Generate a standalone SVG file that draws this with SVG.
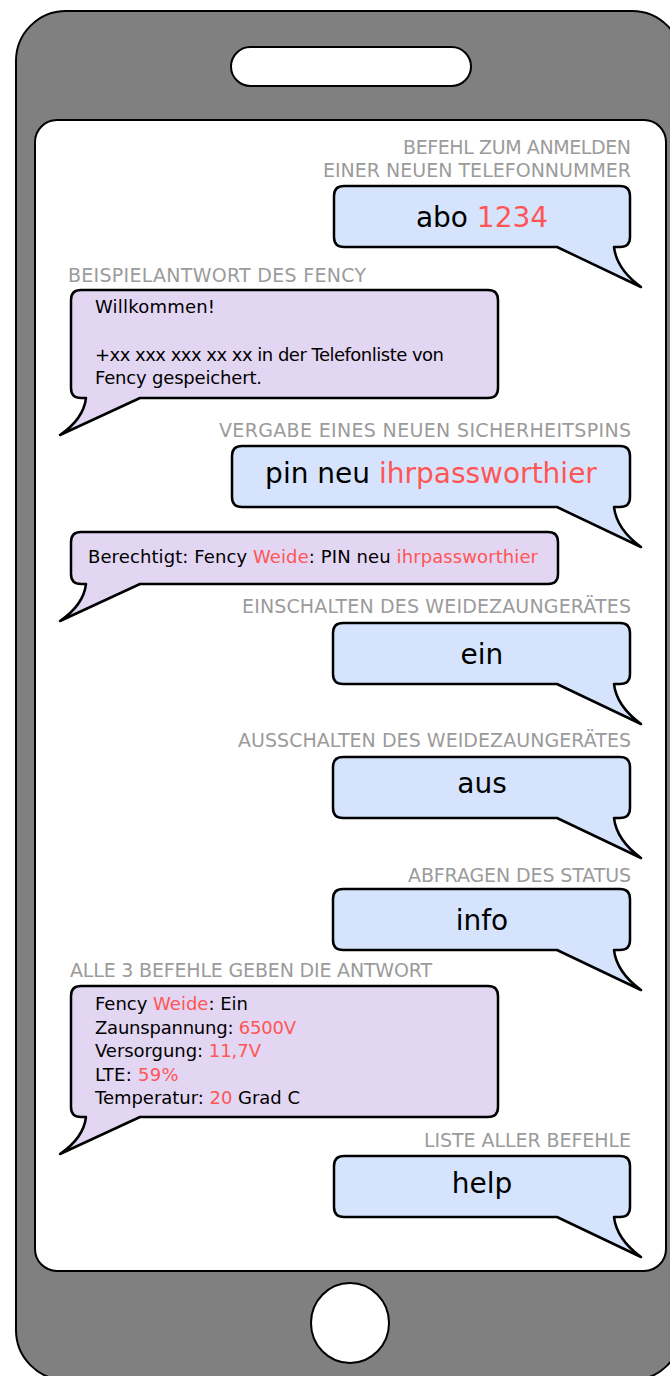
<svg xmlns="http://www.w3.org/2000/svg" width="670" height="1376" viewBox="0 0 670 1376">
<style>
.phone{fill:#808080;stroke:#000;stroke-width:2}
.screen{fill:#fff;stroke:#000;stroke-width:2}
.hole{fill:#fff;stroke:#000;stroke-width:2}
.blue{fill:#d5e4fc;stroke:#000;stroke-width:2.5;stroke-linejoin:round}
.purple{fill:#e2d6f2;stroke:#000;stroke-width:2.5;stroke-linejoin:round}
text{font-family:"DejaVu Sans","Liberation Sans",sans-serif}
.lbl{font-size:19px;fill:#9b9b9b}
.end{text-anchor:end}
.cmd{font-size:28px;fill:#000;text-anchor:middle}
.msg{font-size:18px;fill:#000}
.red{fill:#ff5555}
</style>
<g id="phone">
<rect class="phone" x="16" y="11" width="666" height="1369" rx="50"/>
<rect class="hole" x="231" y="47" width="240" height="39" rx="19.5"/>
<rect class="screen" x="35" y="120" width="631" height="1151" rx="22"/>
<ellipse class="hole" cx="350" cy="1323" rx="39" ry="40"/>
</g>
<g id="labels">
<text class="lbl end" x="631" y="154" textLength="228" lengthAdjust="spacing">BEFEHL ZUM ANMELDEN</text>
<text class="lbl end" x="631" y="177" textLength="308" lengthAdjust="spacing">EINER NEUEN TELEFONNUMMER</text>
<text class="lbl" x="68" y="282" textLength="298" lengthAdjust="spacing">BEISPIELANTWORT DES FENCY</text>
<text class="lbl end" x="631" y="437" textLength="412" lengthAdjust="spacing">VERGABE EINES NEUEN SICHERHEITSPINS</text>
<text class="lbl end" x="631" y="613" textLength="389" lengthAdjust="spacing">EINSCHALTEN DES WEIDEZAUNGERÄTES</text>
<text class="lbl end" x="631" y="747" textLength="393" lengthAdjust="spacing">AUSSCHALTEN DES WEIDEZAUNGERÄTES</text>
<text class="lbl end" x="631" y="882" textLength="223" lengthAdjust="spacing">ABFRAGEN DES STATUS</text>
<text class="lbl" x="70" y="977" textLength="362" lengthAdjust="spacing">ALLE 3 BEFEHLE GEBEN DIE ANTWORT</text>
<text class="lbl end" x="631" y="1147" textLength="207" lengthAdjust="spacing">LISTE ALLER BEFEHLE</text>
</g>
<g id="cmd-abo">
<path class="blue" d="M344,186 H620 Q630,186 630,196 V237 Q630,247 620,247 H614 Q616.5,269 641,287 L557,247 H344 Q334,247 334,237 V196 Q334,186 344,186 Z"/>
<text class="cmd" x="482" y="227">abo <tspan class="red">1234</tspan></text>
</g>
<g id="reply-welcome">
<path class="purple" d="M81,290 H488 Q498,290 498,300 V388 Q498,398 488,398 H140 L60,435 Q83.5,419 86,398 H81 Q71,398 71,388 V300 Q71,290 81,290 Z"/>
<text class="msg" x="95" y="313" textLength="120" lengthAdjust="spacing">Willkommen!</text>
<text class="msg" x="95" y="361" textLength="349" lengthAdjust="spacing">+xx xxx xxx xx xx in der Telefonliste von</text>
<text class="msg" x="95" y="384" textLength="167" lengthAdjust="spacing">Fency gespeichert.</text>
</g>
<g id="cmd-pin">
<path class="blue" d="M242,446 H620 Q630,446 630,456 V497 Q630,507 620,507 H614 Q616.5,529 641,547 L557,507 H242 Q232,507 232,497 V456 Q232,446 242,446 Z"/>
<text class="cmd" x="431" y="483">pin neu <tspan class="red">ihrpassworthier</tspan></text>
</g>
<g id="reply-pin">
<path class="purple" d="M81,532 H548 Q558,532 558,542 V574 Q558,584 548,584 H140 L60,621 Q83.5,605 86,584 H81 Q71,584 71,574 V542 Q71,532 81,532 Z"/>
<text class="msg" x="88" y="563" textLength="450" lengthAdjust="spacing">Berechtigt: Fency <tspan class="red">Weide</tspan>: PIN neu <tspan class="red">ihrpassworthier</tspan></text>
</g>
<g id="cmd-ein">
<path class="blue" d="M343,623 H620 Q630,623 630,633 V674 Q630,684 620,684 H614 Q616.5,706 641,724 L557,684 H343 Q333,684 333,674 V633 Q333,623 343,623 Z"/>
<text class="cmd" x="482" y="664">ein</text>
</g>
<g id="cmd-aus">
<path class="blue" d="M343,757 H620 Q630,757 630,767 V808 Q630,818 620,818 H614 Q616.5,840 641,858 L557,818 H343 Q333,818 333,808 V767 Q333,757 343,757 Z"/>
<text class="cmd" x="482" y="793">aus</text>
</g>
<g id="cmd-info">
<path class="blue" d="M343,889 H620 Q630,889 630,899 V940 Q630,950 620,950 H614 Q616.5,972 641,990 L557,950 H343 Q333,950 333,940 V899 Q333,889 343,889 Z"/>
<text class="cmd" x="482" y="930">info</text>
</g>
<g id="reply-status">
<path class="purple" d="M81,986 H488 Q498,986 498,996 V1107 Q498,1117 488,1117 H140 L60,1154 Q83.5,1138 86,1117 H81 Q71,1117 71,1107 V996 Q71,986 81,986 Z"/>
<text class="msg" x="95" y="1010" textLength="153" lengthAdjust="spacing">Fency <tspan class="red">Weide</tspan>: Ein</text>
<text class="msg" x="95" y="1033.5" textLength="201" lengthAdjust="spacing">Zaunspannung: <tspan class="red">6500V</tspan></text>
<text class="msg" x="95" y="1057" textLength="166" lengthAdjust="spacing">Versorgung: <tspan class="red">11,7V</tspan></text>
<text class="msg" x="95" y="1080.5" textLength="83.5" lengthAdjust="spacing">LTE: <tspan class="red">59%</tspan></text>
<text class="msg" x="95" y="1104" textLength="205" lengthAdjust="spacing">Temperatur: <tspan class="red">20</tspan> Grad C</text>
</g>
<g id="cmd-help">
<path class="blue" d="M344,1156 H620 Q630,1156 630,1166 V1207 Q630,1217 620,1217 H614 Q616.5,1239 641,1257 L557,1217 H344 Q334,1217 334,1207 V1166 Q334,1156 344,1156 Z"/>
<text class="cmd" x="482" y="1193">help</text>
</g>
<g id="connectors"/>
</svg>
